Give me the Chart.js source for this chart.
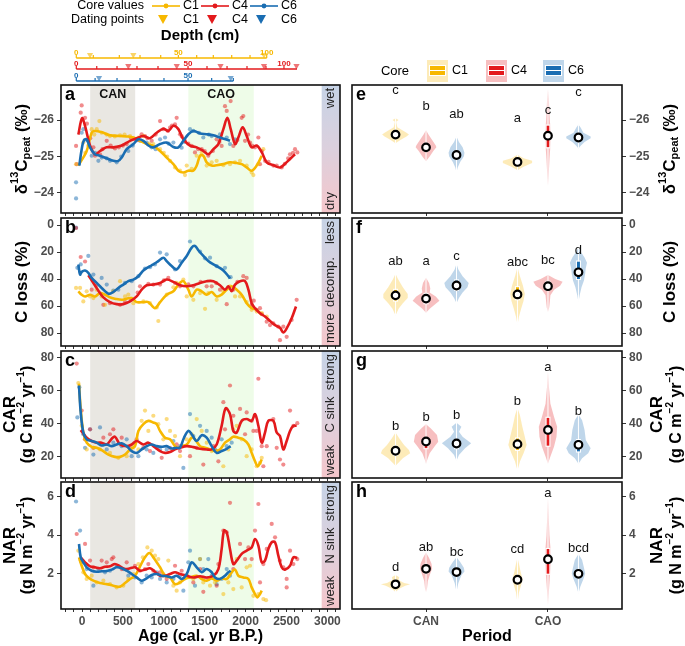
<!DOCTYPE html>
<html>
<head>
<meta charset="utf-8">
<script src="https://cdn.jsdelivr.net/npm/chart.js@4.4.1/dist/chart.umd.min.js"></script>
<style>
  body { margin: 0; background: #fff; width: 685px; height: 646px; position: relative; overflow: hidden; }
  canvas { position: absolute; }
</style>
</head>
<body>
<script>
// ---- shared categories ----
const cores = ["C1", "C4", "C6"];
const coreColors = ["#f7b800", "#e31a1c", "#1a6db2"];
const periods = ["CAN", "CAO"];
const periodStart = [100, 1300];
const periodEnd = [650, 2100];
const ageLabels = [0, 500, 1000, 1500, 2000, 2500, 3000];

// ---- depth axes (age of every 10 cm step) and dating points ----
const depthAgeC1 = [-70, 138, 456, 709, 962, 1178, 1402, 1605, 1830, 2054, 2258];
const depthAgeC4 = [-70, 180, 428, 672, 929, 1296, 1528, 1773, 2017, 2249, 2469];
const depthAgeC6 = [-70, 160, 428, 709, 1002, 1296, 1585, 1850];
const depthEnd = [2258, 2628, 1850];
const datingC1 = [98, 627, 2225];
const datingC4 = [566, 1158, 1693, 2225, 2622];
const datingC6 = [208, 1818];

// ---- panel a: d13C ----
const lineA_C1 = [[-45,-24.75],[57,-25.15],[118,-25.65],[159,-25.7],[261,-25.65],[342,-25.58],[465,-25.56],[546,-25.55],[628,-25.52],[709,-25.43],[790,-25.34],[872,-25.29],[954,-25.15],[1035,-24.97],[1117,-24.79],[1178,-24.61],[1239,-24.56],[1300,-24.61],[1361,-24.61],[1402,-24.75],[1443,-25.02],[1483,-25.02],[1524,-24.84],[1585,-24.75],[1646,-24.76],[1728,-24.79],[1809,-24.84],[1891,-24.82],[1952,-24.79],[2013,-24.7],[2074,-24.61],[2135,-24.75],[2197,-25.02]];
const lineA_C4 = [[-45,-25.6],[0,-26.05],[37,-25.84],[98,-25.3],[159,-25.06],[220,-25.15],[300,-25.25],[383,-25.25],[485,-25.3],[587,-25.43],[668,-25.5],[750,-25.56],[830,-25.5],[913,-25.65],[995,-25.76],[1055,-25.7],[1117,-25.84],[1178,-25.75],[1239,-25.47],[1320,-25.3],[1402,-25.25],[1483,-25.15],[1544,-25.06],[1606,-25.2],[1667,-25.34],[1728,-25.75],[1777,-26.06],[1818,-25.75],[1871,-25.34],[1911,-25.52],[1964,-25.8],[2013,-25.56],[2074,-25.25],[2135,-25.3],[2197,-25.12],[2258,-24.84],[2339,-24.76],[2420,-24.7],[2482,-24.8],[2543,-24.93],[2604,-25.06]];
const lineA_C6 = [[-33,-24.75],[-4,-25.2],[24,-25.45],[57,-25.47],[98,-25.25],[159,-25.06],[220,-25.02],[302,-24.95],[383,-24.88],[444,-24.88],[485,-24.97],[546,-25.2],[628,-25.34],[689,-25.47],[750,-25.43],[811,-25.3],[872,-25.25],[954,-25.34],[1035,-25.38],[1117,-25.26],[1178,-25.25],[1239,-25.43],[1300,-25.61],[1361,-25.7],[1443,-25.63],[1524,-25.61],[1606,-25.58],[1687,-25.52],[1756,-25.47],[1809,-25.43]];
const ptsA_C1 = [[-73,-24.79],[16,-25.38],[40,-25.1],[77,-25.3],[118,-25.75],[150,-25.6],[180,-25.75],[212,-25.97],[240,-25.65],[300,-25.6],[342,-25.56],[400,-25.55],[465,-25.58],[520,-25.6],[587,-25.56],[620,-25.5],[689,-25.52],[750,-25.56],[820,-25.35],[872,-25.34],[954,-25.2],[1000,-25.1],[1040,-25.0],[1076,-24.88],[1137,-24.7],[1198,-24.61],[1259,-24.49],[1280,-24.75],[1341,-24.66],[1402,-25.02],[1463,-25.11],[1524,-24.75],[1585,-24.84],[1646,-24.88],[1728,-24.76],[1809,-24.79],[1870,-24.84],[1932,-24.88],[2013,-24.75],[2074,-24.56],[2095,-24.49],[2156,-24.79],[2217,-25.2]];
const ptsA_C4 = [[-73,-25.29],[-65,-24.79],[-16,-26.2],[-4,-26.4],[37,-26.06],[60,-25.9],[100,-25.5],[139,-25.25],[159,-25.02],[220,-25.06],[250,-25.2],[302,-25.43],[350,-25.3],[403,-25.22],[450,-25.25],[500,-25.3],[546,-25.34],[600,-25.5],[648,-25.47],[680,-25.45],[729,-25.61],[770,-25.56],[800,-25.5],[852,-25.43],[900,-25.6],[954,-25.97],[994,-25.75],[1050,-25.7],[1076,-25.79],[1100,-25.85],[1137,-25.88],[1157,-26.06],[1198,-25.61],[1220,-25.55],[1259,-25.43],[1300,-25.35],[1341,-25.29],[1381,-25.11],[1420,-25.2],[1463,-25.2],[1500,-25.15],[1544,-25.02],[1600,-25.15],[1646,-25.47],[1680,-25.4],[1707,-25.29],[1748,-26.38],[1769,-26.25],[1817,-26.52],[1850,-25.29],[1900,-25.45],[1952,-26.06],[1972,-26.11],[1993,-25.43],[2030,-25.6],[2054,-25.38],[2080,-25.3],[2115,-25.25],[2156,-25.52],[2176,-24.79],[2200,-25.15],[2237,-24.88],[2280,-24.85],[2339,-24.75],[2380,-24.75],[2441,-24.7],[2480,-24.8],[2520,-24.95],[2543,-25.06],[2580,-25.1],[2604,-25.2],[2632,-25.11]];
const ptsA_C6 = [[-73,-24.29],[-73,-23.85],[-4,-25.65],[16,-25.75],[60,-25.45],[118,-25.02],[160,-25.1],[200,-24.88],[240,-24.97],[300,-24.95],[342,-24.88],[424,-24.84],[480,-25.0],[566,-25.15],[620,-25.3],[709,-25.43],[790,-25.38],[850,-25.25],[900,-25.2],[954,-25.47],[1015,-25.52],[1060,-25.35],[1117,-25.38],[1218,-25.24],[1250,-25.4],[1320,-25.75],[1361,-25.7],[1430,-25.65],[1483,-25.52],[1550,-25.6],[1585,-25.56],[1687,-25.61],[1769,-25.52],[1809,-25.34],[1870,-25.47]];

// ---- panel b: C loss ----
const lineB_C1 = [[-45,49.1],[-4,51.6],[37,52.9],[98,51.6],[159,52.9],[220,50.4],[281,51.6],[342,53.6],[403,54.6],[485,55.4],[546,54.6],[607,54.1],[668,57.1],[750,57.1],[811,57.1],[892,61.6],[954,57.1],[1035,51.6],[1117,49.1],[1178,44.1],[1239,41.6],[1300,47.9],[1341,52.9],[1402,47.9],[1463,49.1],[1524,51.6],[1585,49.6],[1646,52.9],[1707,51.6],[1769,47.9],[1830,45.4],[1891,47.9],[1952,51.6],[2013,57.9],[2074,61.6],[2135,62.8],[2197,66.6]];
const lineB_C4 = [[77,37.2],[139,42.9],[200,48.6],[261,53.6],[342,57.1],[424,58.6],[505,58.6],[587,56.6],[668,52.9],[729,47.9],[790,44.6],[872,44.1],[954,42.9],[1035,40.4],[1117,42.1],[1198,44.6],[1280,45.4],[1361,44.6],[1443,42.9],[1524,41.6],[1606,41.6],[1687,44.6],[1748,47.9],[1789,45.4],[1830,49.1],[1871,44.1],[1932,41.6],[1993,41.6],[2034,47.9],[2074,57.9],[2115,61.6],[2176,65.3],[2237,67.8],[2298,71.1],[2360,74.1],[2420,76.1],[2461,79.6],[2502,76.6],[2563,69.1],[2616,60.3]];
const lineB_C6 = [[-45,29.2],[-24,36.7],[-4,34.7],[37,33.7],[77,35.4],[118,39.2],[179,42.9],[240,46.6],[322,50.9],[383,49.6],[444,46.6],[505,44.1],[566,41.6],[628,40.4],[689,37.9],[750,33.7],[811,31.2],[872,29.2],[933,26.7],[994,24.2],[1035,26.7],[1096,30.4],[1157,32.9],[1218,27.9],[1280,22.9],[1341,16.7],[1381,15.5],[1422,18.7],[1483,22.9],[1544,26.7],[1606,29.2],[1667,31.2],[1728,33.7],[1789,37.9],[1809,39.7]];
const ptsB_C1 = [[-73,46.6],[-24,46.6],[16,56.6],[57,49.1],[98,52.9],[139,54.1],[179,47.9],[240,52.9],[281,59.1],[383,49.1],[465,41.6],[526,52.9],[566,51.6],[628,57.9],[750,56.6],[831,57.9],[913,61.1],[933,71.1],[1035,51.6],[1117,46.1],[1157,42.9],[1239,40.4],[1280,52.9],[1361,55.4],[1443,50.4],[1504,62.1],[1544,50.4],[1646,55.4],[1728,49.1],[1809,45.4],[1871,52.9],[1932,52.9],[2013,57.1],[2074,62.8],[2135,64.1],[2197,65.3],[2258,67.8]];
const ptsB_C4 = [[-73,2.2],[-16,23.7],[37,27],[118,47.9],[170,45],[261,59.1],[342,57.9],[465,59.1],[526,57.1],[600,55],[680,50],[709,45.4],[811,43.6],[872,44.1],[954,44.1],[1000,41],[1055,39.2],[1137,42.9],[1198,45.4],[1300,44],[1361,45.4],[1450,42],[1524,45.4],[1585,45.4],[1640,43],[1687,47.9],[1769,58.6],[1850,47.9],[1900,42],[1972,37.9],[2013,39.2],[2074,59.1],[2100,56],[2135,62.8],[2176,61.6],[2200,66],[2258,71.6],[2298,74.1],[2339,72.8],[2400,75.3],[2420,85.3],[2461,75.3],[2502,82.8],[2563,70.3],[2624,55.4]];
const ptsB_C6 = [[-73,2],[-57,31.7],[-16,29.2],[77,22.9],[139,36.7],[240,39.2],[302,44.1],[383,48.6],[444,47.9],[526,42.9],[607,41.6],[689,37.9],[770,32.2],[831,31.2],[892,29.2],[954,20.4],[1035,21.7],[1137,32.9],[1198,26.7],[1320,12.2],[1443,19.7],[1504,24.7],[1565,24.2],[1646,30.4],[1748,31.7],[1817,38.6]];

// ---- panel c: CAR ----
const lineC_C1 = [[-37,64.1],[-16,48.8],[16,34.5],[57,28.4],[118,25.9],[179,25.3],[240,23.9],[322,21.2],[403,19.8],[465,19.8],[526,21.2],[587,24.3],[648,26.3],[689,35.5],[750,39.6],[811,41.6],[872,40.6],[913,39.6],[954,35.5],[1015,31.4],[1076,30.4],[1137,26.3],[1178,25.3],[1218,26.3],[1280,27.3],[1341,31.4],[1381,30.4],[1443,26.3],[1504,25.3],[1565,24.3],[1626,23.3],[1687,24.3],[1748,28.4],[1809,30.4],[1850,32],[1911,31.4],[1972,30.4],[2034,27.3],[2074,22.2],[2115,17.1],[2148,14.1],[2176,16.1],[2197,18.2]];
const lineC_C4 = [[-16,36],[57,31.4],[118,29.4],[179,28.4],[240,28.4],[302,27.3],[363,30.8],[403,32],[465,27.3],[546,26.3],[607,27.3],[668,29.4],[750,27.3],[811,28.4],[872,26.3],[954,23.3],[1015,22.2],[1076,22.7],[1137,24.3],[1198,25.3],[1280,26.3],[1361,25.7],[1443,24.7],[1524,24.3],[1585,24.3],[1646,27.3],[1707,38.6],[1756,49.2],[1809,45.7],[1850,35.5],[1891,34.5],[1952,41.6],[2013,42.7],[2074,41.6],[2115,45.7],[2156,38.6],[2197,28.4],[2237,34.5],[2278,41.6],[2339,41.6],[2380,34.5],[2420,32.4],[2461,24.3],[2502,29.4],[2543,35.5],[2584,38.6],[2624,38.6]];
const lineC_C6 = [[-37,63],[-16,46.7],[16,34.5],[57,30.4],[118,29.4],[179,28.4],[240,26.7],[302,27.3],[363,26.3],[424,27.3],[485,28],[546,26.3],[607,23.3],[668,22.2],[729,24.3],[790,26.3],[852,27.3],[913,26.3],[974,25.9],[1035,26.3],[1096,24.9],[1157,25.3],[1198,25.3],[1247,31.4],[1300,35.5],[1341,33.5],[1402,29.4],[1463,32.9],[1524,31.4],[1585,26.3],[1646,22.2],[1707,23.3],[1769,24.7],[1817,26.3]];
const ptsC_C1 = [[-45,64.5],[-4,38.6],[37,30.4],[57,24.3],[139,25.3],[220,24.3],[342,22.2],[444,19.2],[546,20.2],[628,26.3],[689,24.3],[729,41.6],[770,47.8],[811,35.5],[872,44.7],[933,39.6],[994,30.4],[1035,42.7],[1076,35.5],[1137,32.4],[1198,20.2],[1280,30.4],[1341,33.5],[1402,42.7],[1463,35.5],[1524,28.4],[1585,23.3],[1646,23.3],[1728,14.1],[1789,24.3],[1850,36.5],[1891,38.6],[1952,30.4],[2013,20.2],[2074,24.3],[2135,14.1],[2176,16.1],[2197,19.2]];
const ptsC_C4 = [[-65,76.3],[-4,47.8],[37,30.4],[98,36.5],[139,25.3],[261,31.4],[342,33.5],[383,36.5],[485,31.4],[587,25.3],[668,30.4],[750,25.3],[831,23.3],[913,25.3],[974,19.2],[1076,25.3],[1157,27.3],[1198,23.3],[1320,20.2],[1402,25.3],[1483,15.1],[1606,26.3],[1667,17.1],[1728,52.9],[1748,36.5],[1809,63],[1850,44.7],[1932,48.8],[1993,33.5],[2013,46.7],[2074,41.6],[2095,35.5],[2135,35.5],[2156,67.1],[2197,26.3],[2217,14.1],[2258,26.3],[2339,42.7],[2380,25.3],[2420,18.2],[2461,15.1],[2543,47.8],[2584,38.6],[2632,40.2]];
const ptsC_C6 = [[-57,43.7],[-33,62],[16,33.5],[37,25.3],[98,36.5],[139,21.2],[220,37.6],[302,24.3],[383,28.4],[485,26.3],[546,30.4],[607,20.2],[689,20.2],[790,24.3],[872,22.2],[954,24.3],[1035,24.3],[1117,29.4],[1198,26.3],[1239,13.1],[1320,45.7],[1361,32.4],[1443,38.6],[1524,35.5],[1585,31.4],[1626,24.3],[1646,23.3],[1707,30.4],[1769,26.3],[1830,28.4]];

// ---- panel d: NAR ----
const lineD_C1 = [[-37,2.84],[-4,2.4],[37,1.97],[77,1.79],[139,1.62],[220,1.5],[302,1.44],[383,1.36],[465,1.31],[526,1.5],[587,1.71],[648,1.88],[709,2.37],[770,2.84],[823,3.07],[872,2.84],[913,2.58],[954,2.32],[1015,1.88],[1076,1.79],[1137,1.44],[1198,1.53],[1259,1.71],[1320,1.79],[1402,1.88],[1463,1.71],[1524,1.62],[1585,1.74],[1646,1.62],[1707,1.74],[1769,1.71],[1830,2.06],[1871,2.2],[1911,1.88],[1972,1.79],[2034,1.71],[2074,1.27],[2115,0.92],[2143,0.75],[2176,0.92],[2197,1.1]];
const lineD_C4 = [[-16,2.84],[37,2.58],[98,2.37],[159,2.32],[220,2.27],[281,2.35],[342,2.37],[403,2.49],[465,2.37],[526,2.23],[587,2.27],[648,2.32],[709,2.14],[770,2.2],[831,2.27],[892,2.09],[954,1.88],[1015,1.88],[1076,1.97],[1137,2.06],[1198,1.97],[1280,1.88],[1361,1.79],[1443,1.85],[1524,1.79],[1606,1.88],[1667,2.23],[1707,3.28],[1736,4.24],[1769,4.15],[1809,3.28],[1850,2.49],[1891,2.67],[1952,3.02],[2013,3.19],[2074,3.36],[2115,3.8],[2156,3.45],[2197,2.58],[2237,2.67],[2278,3.28],[2319,3.63],[2360,3.63],[2400,2.93],[2441,2.32],[2482,2.2],[2543,2.4],[2584,2.84],[2632,2.81]];
const lineD_C6 = [[-37,3.54],[-16,2.84],[16,2.58],[57,2.32],[118,2.14],[179,2.09],[240,2.11],[302,2.13],[363,2.2],[424,2.32],[485,2.27],[546,2.14],[607,1.97],[668,1.79],[729,1.62],[790,1.74],[852,1.92],[913,1.97],[974,1.88],[1035,1.85],[1096,1.79],[1157,1.88],[1218,1.71],[1280,1.97],[1341,2.58],[1402,2.32],[1463,2.06],[1524,2.23],[1585,2.06],[1626,1.79],[1687,1.71],[1748,1.88],[1789,2.06],[1817,2.14]];
const ptsD_C1 = [[-45,3.19],[-16,2.67],[16,2.06],[57,1.71],[118,1.88],[179,1.53],[261,1.62],[342,1.44],[424,1.27],[505,1.36],[566,1.71],[628,1.97],[689,2.49],[744,2.84],[799,3.36],[852,3.19],[892,2.93],[933,2.75],[994,1.97],[1055,2.67],[1117,1.36],[1157,1.1],[1198,1.53],[1280,1.88],[1361,1.71],[1443,2.75],[1483,1.53],[1565,1.36],[1626,1.53],[1728,0.92],[1789,1.53],[1850,1.18],[1891,2.75],[1952,1.27],[2013,2.32],[2054,2.4],[2095,0.83],[2156,0.92],[2217,0.66],[2250,0.6]];
const ptsD_C4 = [[-65,4.06],[-4,2.67],[37,3.54],[98,2.67],[139,2.32],[240,2.67],[302,2.58],[363,2.75],[383,2.84],[485,2.23],[546,2.58],[648,2.4],[709,2.14],[770,2.23],[811,2.49],[872,2.14],[954,2.06],[1035,1.71],[1137,2.4],[1218,2.14],[1280,1.88],[1361,1.53],[1443,2.23],[1483,1.04],[1544,1.71],[1646,1.36],[1667,2.49],[1728,4.24],[1769,4.15],[1809,5.69],[1850,2.23],[1932,3.54],[1993,2.75],[2034,3.36],[2074,2.75],[2115,4.24],[2156,5.63],[2176,1.53],[2217,2.49],[2258,3.28],[2319,4.59],[2360,3.89],[2420,2.67],[2461,2.32],[2502,1.71],[2502,1.27],[2543,3.19],[2584,2.49],[2632,2.75]];
const ptsD_C6 = [[-73,5.76],[-24,4.24],[-4,2.58],[57,2.23],[139,1.36],[200,2.23],[281,2.06],[342,2.14],[424,2.4],[505,2.23],[566,1.88],[648,1.79],[729,1.53],[790,1.88],[852,1.79],[913,2.06],[954,1.71],[1035,1.53],[1117,1.71],[1198,1.88],[1239,1.1],[1300,2.58],[1320,3.19],[1381,1.36],[1443,2.75],[1483,2.23],[1544,2.75],[1585,1.88],[1646,1.44],[1707,1.71],[1769,2.23],[1809,1.88]];

// ---- violins (order: C1 CAN, C4 CAN, C6 CAN, C1 CAO, C4 CAO, C6 CAO), profile = [value, half width] ----
const violinE = [
  [[-26.05,0],[-26.0,0.025],[-25.95,0.005],[-25.8,0.015],[-25.65,0.09],[-25.6,0.11],[-25.55,0.09],[-25.45,0.04],[-25.36,0]],
  [[-25.72,0],[-25.6,0.02],[-25.45,0.05],[-25.3,0.08],[-25.25,0.085],[-25.15,0.06],[-25.0,0.03],[-24.87,0]],
  [[-25.55,0],[-25.4,0.02],[-25.25,0.05],[-25.1,0.065],[-25.0,0.06],[-24.85,0.03],[-24.7,0.01],[-24.57,0]],
  [[-25.05,0],[-24.95,0.05],[-24.88,0.12],[-24.82,0.12],[-24.72,0.05],[-24.62,0]],
  [[-26.85,0],[-26.5,0.008],[-26.0,0.015],[-25.6,0.025],[-25.3,0.02],[-24.9,0.012],[-24.5,0.006],[-24.2,0]],
  [[-25.88,0],[-25.78,0.02],[-25.65,0.04],[-25.55,0.1],[-25.5,0.1],[-25.4,0.05],[-25.3,0.02],[-25.22,0]]
];
const medE = [-25.6, -25.25, -25.04, -24.85, -25.57, -25.52];
const boxE = [[-25.65,-25.55],[-25.35,-25.15],[-25.15,-24.95],[-24.9,-24.8],[-25.85,-25.25],[-25.58,-25.45]];
const letE = ["c", "b", "ab", "a", "c", "c"];
const letYE = [-26.81, -26.36, -26.15, -26.04, -26.26, -26.75];

const violinF = [
  [[36,0],[40,0.02],[46,0.06],[51,0.1],[54,0.1],[58,0.06],[62,0.025],[67,0]],
  [[39,0],[43,0.025],[47,0.035],[50,0.03],[53,0.08],[56,0.11],[59,0.07],[62,0.03],[65,0]],
  [[28.6,0],[33,0.015],[38,0.05],[43,0.1],[46,0.09],[50,0.05],[54,0.02],[58,0]],
  [[31,0],[38,0.02],[45,0.045],[51,0.06],[56,0.05],[62,0.03],[68,0.012],[74,0]],
  [[37,0],[40,0.06],[42,0.12],[45,0.1],[48,0.05],[52,0.02],[57,0.015],[61,0.01],[64.5,0]],
  [[16.5,0],[20,0.02],[24,0.05],[28,0.07],[32,0.06],[36,0.055],[41,0.045],[46,0.025],[52,0.01],[57,0]]
];
const medF = [52.1, 54.5, 44.8, 51.4, 45.3, 35];
const boxF = [[48,56],[51,58],[41,48],[46,55],[42,48],[27,40]];
const letF = ["ab", "a", "c", "abc", "bc", "d"];
const letYF = [26.9, 26.9, 23.3, 27.8, 25.9, 19.1];

const violinG = [
  [[34.5,0],[31,0.03],[27,0.07],[24,0.11],[22,0.12],[19,0.06],[16,0.02],[14.4,0]],
  [[39.5,0],[37,0.04],[33,0.09],[29,0.1],[26,0.07],[22,0.03],[18,0.01],[15.5,0]],
  [[40.5,0],[38,0.04],[35,0.02],[32,0.05],[28,0.12],[25,0.07],[21,0.02],[17.4,0]],
  [[49.5,0],[45,0.02],[38,0.04],[32,0.06],[27,0.075],[22,0.05],[17,0.02],[11.4,0]],
  [[71.6,0],[62,0.008],[52,0.02],[44,0.05],[38,0.075],[32,0.07],[26,0.05],[20,0.02],[15.6,0]],
  [[45.5,0],[42,0.03],[36,0.05],[30,0.06],[25,0.1],[22,0.08],[19,0.03],[15.6,0]]
];
const medG = [23.5, 29.1, 27.9, 27.5, 36.1, 27.1];
const boxG = [[21,26],[25,31],[25,30],[24,31],[26.5,43.5],[23,30]];
const letG = ["b", "b", "b", "b", "a", "b"];
const letYG = [38.5, 43.5, 45.1, 53.5, 74, 47.5];

const violinH = [
  [[1.92,0],[1.8,0.03],[1.65,0.025],[1.5,0.07],[1.43,0.12],[1.35,0.08],[1.2,0.03],[1.03,0]],
  [[3.1,0],[2.8,0.025],[2.5,0.045],[2.25,0.05],[2.0,0.035],[1.6,0.015],[1.2,0.008],[1.03,0]],
  [[2.85,0],[2.6,0.03],[2.3,0.06],[2.1,0.065],[1.9,0.04],[1.5,0.015],[1.03,0]],
  [[2.85,0],[2.5,0.012],[2.1,0.025],[1.7,0.042],[1.4,0.03],[1.0,0.012],[0.43,0]],
  [[5.96,0],[5,0.006],[4,0.012],[3.2,0.022],[2.6,0.025],[2.0,0.018],[1.3,0.01],[0.34,0]],
  [[3.02,0],[2.7,0.03],[2.3,0.045],[2.0,0.055],[1.7,0.04],[1.3,0.015],[0.95,0]]
];
const medH = [1.43, 2.24, 2.07, 1.67, 2.74, 1.98];
const boxH = [[1.35,1.55],[2.05,2.45],[1.95,2.2],[1.5,1.85],[1.98,3.28],[1.85,2.15]];
const letH = ["d", "ab", "bc", "cd", "a", "bcd"];
const letYH = [2.3, 3.37, 3.1, 3.23, 6.17, 3.33];

// ---- layout / style ----
const FONT = '"Liberation Sans", Arial, Helvetica, sans-serif';
const TICK_GREY = "#4d4d4d";
const AGE_MIN = -257, AGE_MAX = 3154, GRAD_START = 2930;
const dodge = [-0.25, 0, 0.25];
Chart.defaults.font.family = FONT;

function alpha(hex, a) {
  const n = parseInt(hex.slice(1), 16);
  return `rgba(${n >> 16},${(n >> 8) & 255},${n & 255},${a})`;
}
function addCanvas(left, top, w, h) {
  const c = document.createElement("canvas");
  c.width = w; c.height = h;
  c.style.left = left + "px"; c.style.top = top + "px";
  c.style.width = w + "px"; c.style.height = h + "px";
  document.body.appendChild(c);
  return c;
}
const fmt = v => (v < 0 ? "\u2212" + Math.abs(v) : String(v));

// rotated axis title with super/subscripts; parts = [[text, "sup"|"sub"|undefined], ...]
function drawRich(ctx, parts, cx, cy, size) {
  ctx.save();
  ctx.translate(cx, cy);
  ctx.rotate(-Math.PI / 2);
  const fontFor = p => `bold ${p[1] ? Math.round(size * 0.62) : size}px ${FONT}`;
  let w = 0;
  const widths = parts.map(p => { ctx.font = fontFor(p); const m = ctx.measureText(p[0]).width; w += m; return m; });
  let x = -w / 2;
  ctx.textBaseline = "middle"; ctx.textAlign = "left"; ctx.fillStyle = "#000";
  parts.forEach((p, i) => {
    ctx.font = fontFor(p);
    const dy = p[1] === "sup" ? -size * 0.4 : p[1] === "sub" ? size * 0.3 : 0;
    ctx.fillText(p[0], x, dy);
    x += widths[i];
  });
  ctx.restore();
}

const titleD13 = [["δ"], ["13", "sup"], ["C"], ["peat", "sub"], [" (‰)"]];
const titleCloss = [["C loss (%)"]];
const titleCAR = [["(g C m"], ["\u22122", "sup"], [" yr"], ["\u22121", "sup"], [")"]];
const titleNAR = [["(g N m"], ["\u22122", "sup"], [" yr"], ["\u22121", "sup"], [")"]];

function baseY(p, position) {
  return {
    type: "linear", position, min: p.yMin, max: p.yMax, reverse: p.reverse,
    afterBuildTicks: s => { s.ticks = p.yTicks.map(v => ({ value: v })); },
    afterFit: s => { s.width = position === "left" ? 61 : 63; s.paddingTop = 0; s.paddingBottom = 0; },
    grid: { drawOnChartArea: false, drawTicks: true, tickLength: 4, color: "#333", lineWidth: 1 },
    border: { display: false },
    ticks: { padding: 3, color: TICK_GREY, font: { size: 12, weight: "bold" }, callback: v => fmt(v) }
  };
}

function drawTitles(ctx, p, xSingle, xTwo) {
  const cy = (p.chartTop + p.chartBottom) / 2;
  if (p.titleTop) {
    ctx.save();
    ctx.font = `bold 17px ${FONT}`; ctx.fillStyle = "#000"; ctx.textAlign = "center"; ctx.textBaseline = "middle";
    ctx.translate(xTwo[0], cy); ctx.rotate(-Math.PI / 2); ctx.fillText(p.titleTop, 0, 0);
    ctx.restore();
    drawRich(ctx, p.title, xTwo[1], cy, 16);
  } else {
    drawRich(ctx, p.title, xSingle, cy, 17);
  }
}

// ---------- top strip: legend + depth axes + right legend ----------
(function topStrip() {
  const cv = addCanvas(0, 0, 685, 86);
  const rows = [58, 69, 81];
  const depthAges = [depthAgeC1, depthAgeC4, depthAgeC6];
  const datings = [datingC1, datingC4, datingC6];
  const datasets = [];
  cores.forEach((c, i) => {
    datasets.push({ data: [[depthAges[i][0], rows[i]], [depthEnd[i], rows[i]]], showLine: true, borderColor: coreColors[i], borderWidth: 1.4, pointRadius: 0 });
    datasets.push({ data: depthAges[i].map(a => [a, rows[i] - 1.5]), pointStyle: "line", rotation: 90, pointRadius: 1.6, borderColor: coreColors[i], borderWidth: 1.2 });
    datasets.push({ data: datings[i].map(a => [a, rows[i] - 3.2]), pointStyle: "triangle", rotation: 180, pointRadius: 3.6, backgroundColor: alpha(coreColors[i], 0.6), borderWidth: 0 });
  });
  new Chart(cv, {
    type: "scatter",
    data: { datasets },
    options: {
      responsive: false, animation: false, events: [],
      layout: { autoPadding: false, padding: { left: 61, right: 345, top: 0, bottom: 0 } },
      plugins: { legend: { display: false }, tooltip: { enabled: false } },
      scales: {
        x: { type: "linear", min: AGE_MIN, max: AGE_MAX, display: false },
        y: { type: "linear", min: 0, max: 86, reverse: true, display: false }
      }
    },
    plugins: [{
      id: "topText",
      afterDraw(chart) {
        const ctx = chart.ctx, xs = chart.scales.x, ys = chart.scales.y;
        ctx.save();
        // depth labels
        ctx.font = `bold 8px ${FONT}`; ctx.textAlign = "center"; ctx.textBaseline = "middle";
        cores.forEach((c, i) => {
          ctx.fillStyle = coreColors[i];
          depthAges[i].forEach((a, k) => {
            if (k % 5 === 0) ctx.fillText(String(k * 10), xs.getPixelForValue(a), ys.getPixelForValue(rows[i]) - 5.5);
          });
        });
        ctx.fillStyle = "#000";
        ctx.font = `bold 15px ${FONT}`;
        ctx.fillText("Depth (cm)", 200, 36);
        // left legend
        ctx.font = `12.5px ${FONT}`; ctx.textAlign = "right";
        ctx.fillText("Core values", 144, 6);
        ctx.fillText("Dating points", 144, 20);
        ctx.textAlign = "left";
        const kx = [152, 201, 250];
        cores.forEach((c, i) => {
          ctx.strokeStyle = coreColors[i]; ctx.lineWidth = 1.6;
          ctx.beginPath(); ctx.moveTo(kx[i], 6); ctx.lineTo(kx[i] + 28, 6); ctx.stroke();
          ctx.fillStyle = coreColors[i];
          ctx.beginPath(); ctx.arc(kx[i] + 14, 6, 2.4, 0, Math.PI * 2); ctx.fill();
          const tx = kx[i] + 11;
          ctx.beginPath(); ctx.moveTo(tx - 5, 15); ctx.lineTo(tx + 5, 15); ctx.lineTo(tx, 24); ctx.closePath(); ctx.fill();
          ctx.fillStyle = "#000";
          ctx.fillText(c, kx[i] + 31, 6);
          ctx.fillText(c, kx[i] + 31, 20);
        });
        // right legend
        ctx.font = `13px ${FONT}`; ctx.textAlign = "center";
        ctx.fillText("Core", 395, 71);
        const rk = [427, 486, 543];
        ctx.font = `12.5px ${FONT}`; ctx.textAlign = "left";
        cores.forEach((c, i) => {
          ctx.fillStyle = alpha(coreColors[i], 0.28);
          ctx.fillRect(rk[i], 60, 21, 22);
          ctx.fillStyle = coreColors[i];
          ctx.fillRect(rk[i] + 2, 65, 17, 11);
          ctx.strokeStyle = "#fff"; ctx.lineWidth = 1;
          ctx.beginPath(); ctx.moveTo(rk[i] + 2, 70.5); ctx.lineTo(rk[i] + 19, 70.5); ctx.stroke();
          ctx.strokeRect(rk[i] + 2.5, 65.5, 16, 10);
          ctx.fillStyle = "#000";
          ctx.fillText(c, rk[i] + 25, 71);
        });
        ctx.restore();
      }
    }]
  });
})();

// ---------- left panels ----------
const minorAges = [];
for (let a = -200; a <= 3100; a += 100) minorAges.push(a);

function leftPanel(p) {
  const extra = p.showX ? 37 : 5;
  const cv = addCanvas(0, p.chartTop - 4, 345, p.chartBottom - p.chartTop + 4 + extra);
  const datasets = [];
  p.pts.forEach((arr, i) => datasets.push({ data: arr, backgroundColor: alpha(coreColors[i], 0.5), pointRadius: 2.1, borderWidth: 0, order: 10 }));
  p.lines.forEach((arr, i) => datasets.push({ data: arr, showLine: true, borderColor: coreColors[i], borderWidth: 2.6, pointRadius: 0, tension: 0.35, order: 3 - i }));
  new Chart(cv, {
    type: "scatter",
    data: { datasets },
    options: {
      responsive: false, animation: false, events: [],
      layout: { autoPadding: false, padding: { left: 0, right: 5, top: 4, bottom: 0 } },
      plugins: { legend: { display: false }, tooltip: { enabled: false } },
      scales: {
        x: {
          type: "linear", min: AGE_MIN, max: AGE_MAX,
          afterBuildTicks: s => { s.ticks = minorAges.map(v => ({ value: v })); },
          afterFit: s => { s.height = extra; s.paddingLeft = 0; s.paddingRight = 0; },
          grid: { drawOnChartArea: false, drawTicks: true, tickLength: 3, color: "#333", lineWidth: 1 },
          border: { display: false },
          ticks: { autoSkip: false, maxRotation: 0, padding: 2, color: TICK_GREY, font: { size: 12, weight: "bold" },
            callback: v => (p.showX && ageLabels.includes(v) ? String(v) : "") }
        },
        y: baseY(p, "left")
      }
    },
    plugins: [{
      id: "leftDecor",
      beforeDatasetsDraw(chart) {
        const { ctx, chartArea: ca } = chart, xs = chart.scales.x;
        ctx.save();
        const shades = ["rgba(196,192,180,0.38)", "rgba(205,245,190,0.35)"];
        periods.forEach((n, i) => {
          const x0 = xs.getPixelForValue(periodStart[i]), x1 = xs.getPixelForValue(periodEnd[i]);
          ctx.fillStyle = shades[i];
          ctx.fillRect(x0, ca.top, x1 - x0, ca.bottom - ca.top);
          if (p.periodText) {
            ctx.fillStyle = "#111"; ctx.font = `bold 12.5px ${FONT}`; ctx.textAlign = "center"; ctx.textBaseline = "middle";
            ctx.fillText(n, (x0 + x1) / 2, ca.top + 10);
          }
        });
        const gx = xs.getPixelForValue(GRAD_START);
        const g = ctx.createLinearGradient(0, ca.top, 0, ca.bottom);
        g.addColorStop(0, "#c6d3e6"); g.addColorStop(0.5, "#dcd0dd"); g.addColorStop(1, "#f5c6cb");
        ctx.fillStyle = g;
        ctx.fillRect(gx, ca.top, ca.right - gx, ca.bottom - ca.top);
        ctx.restore();
      },
      afterDraw(chart) {
        const { ctx, chartArea: ca } = chart, xs = chart.scales.x;
        ctx.save();
        ctx.strokeStyle = "#111"; ctx.lineWidth = 1.6;
        ctx.strokeRect(ca.left, ca.top, ca.right - ca.left, ca.bottom - ca.top);
        ctx.fillStyle = "#000"; ctx.font = `bold 18px ${FONT}`; ctx.textAlign = "left"; ctx.textBaseline = "middle";
        ctx.fillText(p.letter, ca.left + 4, ca.top + 10);
        // gradient labels
        const gx = (xs.getPixelForValue(GRAD_START) + ca.right) / 2;
        ctx.font = `13px ${FONT}`; ctx.fillStyle = "#222";
        const pos = p.gradLabels.length === 2 ? [0, 2] : [0, 1, 2];
        p.gradLabels.forEach((t, k) => {
          ctx.save();
          const where = pos[k];
          const y = where === 0 ? ca.top + 3 : where === 2 ? ca.bottom - 3 : (ca.top + ca.bottom) / 2;
          ctx.translate(gx, y); ctx.rotate(-Math.PI / 2);
          ctx.textAlign = where === 0 ? "right" : where === 2 ? "left" : "center";
          ctx.textBaseline = "middle";
          ctx.fillText(t, 0, 0);
          ctx.restore();
        });
        drawTitles(ctx, { ...p, chartTop: ca.top, chartBottom: ca.bottom }, 22, [10, 28]);
        if (p.showX) {
          ctx.fillStyle = "#000"; ctx.font = `bold 16px ${FONT}`; ctx.textAlign = "center"; ctx.textBaseline = "middle";
          ctx.fillText("Age (cal. yr B.P.)", (ca.left + ca.right) / 2, ca.bottom + 28);
        }
        ctx.restore();
      }
    }]
  });
}

// ---------- right panels ----------
const catX = i => Math.floor(i / 3) + 1 + dodge[i % 3];

function rightPanel(p) {
  const extra = p.showX ? 37 : 5;
  const cv = addCanvas(345, p.chartTop - 4, 340, p.chartBottom - p.chartTop + 4 + extra);
  new Chart(cv, {
    type: "scatter",
    data: { datasets: [{ data: p.med.map((m, i) => [catX(i), m]), pointRadius: 3.8, borderWidth: 2.2, borderColor: "#000", backgroundColor: "#fff" }] },
    options: {
      responsive: false, animation: false, events: [],
      layout: { autoPadding: false, padding: { left: 7, right: 0, top: 4, bottom: 0 } },
      plugins: { legend: { display: false }, tooltip: { enabled: false } },
      scales: {
        x: {
          type: "linear", min: 0.393, max: 2.607,
          afterBuildTicks: s => { s.ticks = [1, 2].map(v => ({ value: v })); },
          afterFit: s => { s.height = extra; s.paddingLeft = 0; s.paddingRight = 0; },
          grid: { drawOnChartArea: false, drawTicks: true, tickLength: 3, color: "#333", lineWidth: 1 },
          border: { display: false },
          ticks: { autoSkip: false, maxRotation: 0, padding: 2, color: TICK_GREY, font: { size: 12, weight: "bold" },
            callback: v => (p.showX ? periods[v - 1] : "") }
        },
        y: baseY(p, "right")
      }
    },
    plugins: [{
      id: "violins",
      beforeDatasetsDraw(chart) {
        const { ctx } = chart, xs = chart.scales.x, ys = chart.scales.y;
        ctx.save();
        p.violins.forEach((prof, i) => {
          const cx = catX(i), col = coreColors[i % 3];
          ctx.beginPath();
          prof.forEach(([v, w], k) => {
            const X = xs.getPixelForValue(cx + w), Y = ys.getPixelForValue(v);
            k ? ctx.lineTo(X, Y) : ctx.moveTo(X, Y);
          });
          for (let k = prof.length - 1; k >= 0; k--) {
            ctx.lineTo(xs.getPixelForValue(cx - prof[k][1]), ys.getPixelForValue(prof[k][0]));
          }
          ctx.closePath();
          ctx.fillStyle = alpha(col, 0.28);
          ctx.fill();
          const px = xs.getPixelForValue(cx);
          ctx.strokeStyle = "#fff"; ctx.lineWidth = 1;
          ctx.beginPath();
          ctx.moveTo(px, ys.getPixelForValue(prof[0][0]));
          ctx.lineTo(px, ys.getPixelForValue(prof[prof.length - 1][0]));
          ctx.stroke();
          const y0 = ys.getPixelForValue(p.box[i][0]), y1 = ys.getPixelForValue(p.box[i][1]);
          ctx.fillStyle = col;
          ctx.fillRect(px - 1.5, Math.min(y0, y1), 3, Math.abs(y1 - y0));
          ctx.strokeRect(px - 2, Math.min(y0, y1) - 0.5, 4, Math.abs(y1 - y0) + 1);
        });
        ctx.restore();
      },
      afterDraw(chart) {
        const { ctx, chartArea: ca } = chart, xs = chart.scales.x, ys = chart.scales.y;
        ctx.save();
        ctx.fillStyle = "#111"; ctx.font = `13px ${FONT}`; ctx.textAlign = "center"; ctx.textBaseline = "middle";
        p.letters.forEach((t, i) => ctx.fillText(t, xs.getPixelForValue(catX(i)), ys.getPixelForValue(p.letterY[i])));
        ctx.strokeStyle = "#111"; ctx.lineWidth = 1.6;
        ctx.strokeRect(ca.left, ca.top, ca.right - ca.left, ca.bottom - ca.top);
        ctx.fillStyle = "#000"; ctx.font = `bold 18px ${FONT}`; ctx.textAlign = "left";
        ctx.fillText(p.letter, ca.left + 4, ca.top + 10);
        drawTitles(ctx, { ...p, chartTop: ca.top, chartBottom: ca.bottom }, 325, [312, 332]);
        if (p.showX) {
          ctx.fillStyle = "#000"; ctx.font = `bold 16px ${FONT}`; ctx.textAlign = "center";
          ctx.fillText("Period", (ca.left + ca.right) / 2, ca.bottom + 28);
        }
        ctx.restore();
      }
    }]
  });
}

// ---------- build ----------
const rowsGeom = [
  { chartTop: 85, chartBottom: 213, yMin: -26.96, yMax: -23.45, reverse: true, yTicks: [-26, -25, -24], title: titleD13 },
  { chartTop: 218, chartBottom: 346, yMin: -5.2, yMax: 89.6, reverse: true, yTicks: [0, 20, 40, 60, 80], title: titleCloss },
  { chartTop: 351, chartBottom: 478, yMin: 7.0, yMax: 83.9, reverse: false, yTicks: [20, 40, 60, 80], title: titleCAR, titleTop: "CAR" },
  { chartTop: 482, chartBottom: 609, yMin: 0.14, yMax: 6.78, reverse: false, yTicks: [2, 4, 6], title: titleNAR, titleTop: "NAR" }
];

leftPanel({ ...rowsGeom[0], letter: "a", periodText: true, gradLabels: ["wet", "dry"], lines: [lineA_C1, lineA_C4, lineA_C6], pts: [ptsA_C1, ptsA_C4, ptsA_C6] });
leftPanel({ ...rowsGeom[1], letter: "b", gradLabels: ["less", "decomp.", "more"], lines: [lineB_C1, lineB_C4, lineB_C6], pts: [ptsB_C1, ptsB_C4, ptsB_C6] });
leftPanel({ ...rowsGeom[2], letter: "c", gradLabels: ["strong", "C sink", "weak"], lines: [lineC_C1, lineC_C4, lineC_C6], pts: [ptsC_C1, ptsC_C4, ptsC_C6] });
leftPanel({ ...rowsGeom[3], letter: "d", showX: true, gradLabels: ["strong", "N sink", "weak"], lines: [lineD_C1, lineD_C4, lineD_C6], pts: [ptsD_C1, ptsD_C4, ptsD_C6] });

rightPanel({ ...rowsGeom[0], letter: "e", violins: violinE, med: medE, box: boxE, letters: letE, letterY: letYE });
rightPanel({ ...rowsGeom[1], letter: "f", violins: violinF, med: medF, box: boxF, letters: letF, letterY: letYF });
rightPanel({ ...rowsGeom[2], letter: "g", violins: violinG, med: medG, box: boxG, letters: letG, letterY: letYG });
rightPanel({ ...rowsGeom[3], letter: "h", showX: true, violins: violinH, med: medH, box: boxH, letters: letH, letterY: letYH });
</script>
</body>
</html>
